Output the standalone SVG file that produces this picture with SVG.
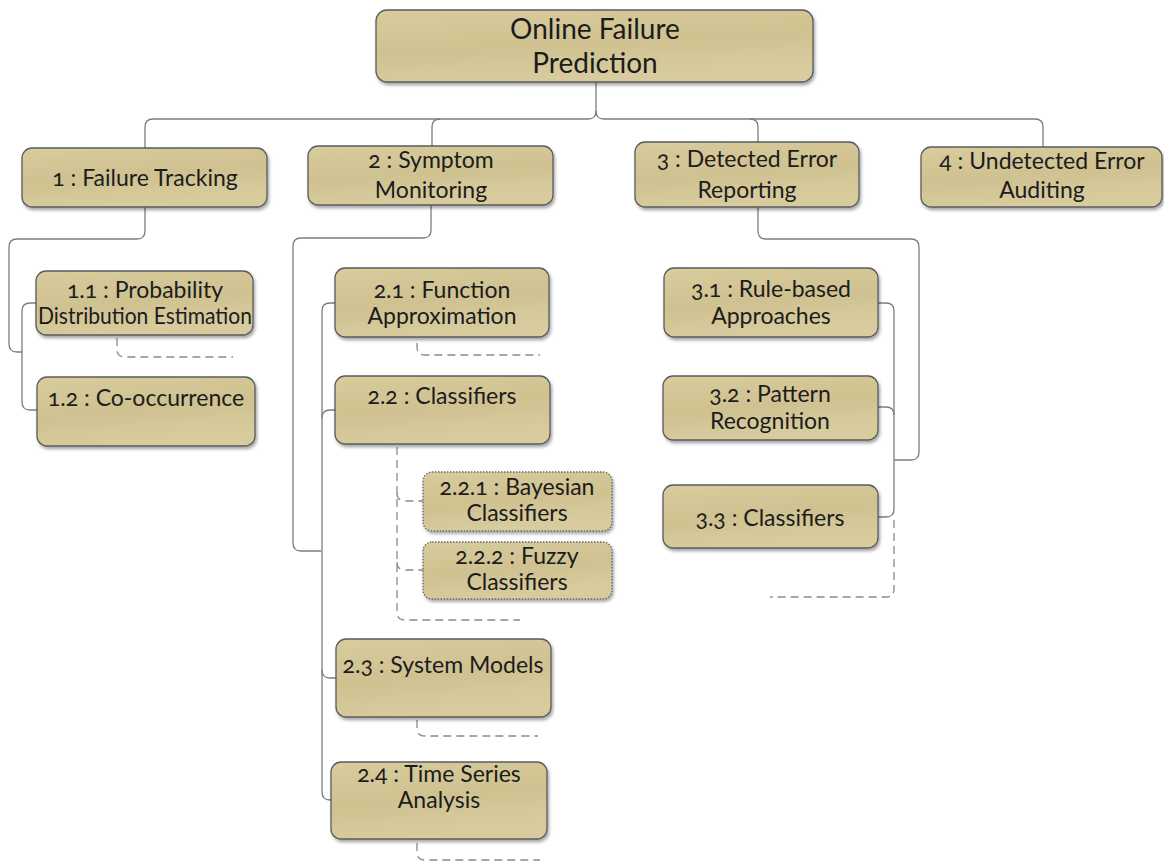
<svg xmlns="http://www.w3.org/2000/svg" width="1164" height="862" viewBox="0 0 1164 862">
  <defs>
    <linearGradient id="tan" x1="0" y1="0" x2="0.3" y2="1">
      <stop offset="0" stop-color="#d9cc9d"/>
      <stop offset="0.55" stop-color="#cfc190"/>
      <stop offset="1" stop-color="#d8cc9f"/>
    </linearGradient>
    <filter id="shadow" x="-10%" y="-10%" width="120%" height="130%">
      <feDropShadow dx="1.5" dy="2.5" stdDeviation="1.8" flood-color="#000" flood-opacity="0.35"/>
    </filter>
  </defs>
  <style>
    .box { fill: url(#tan); stroke: #5b5b5b; stroke-width: 1.3; filter: url(#shadow); }
    .sub { stroke-dasharray: 1.5 1.5; stroke: #666; }
    .lbl { font-family: Lato, "Open Sans", sans-serif; font-size: 23px; fill: #1c1c1c; text-anchor: middle; font-variant-numeric: oldstyle-nums; }
    .big { font-size: 28px; }
    .con { fill: none; stroke: #7d7d7d; stroke-width: 1.3; }
    .dash { fill: none; stroke: #8a8a8a; stroke-width: 1.3; stroke-dasharray: 8 5; }
  </style>
  <rect width="1164" height="862" fill="#ffffff"/>

  <!-- connectors -->
  <g id="connectors">
    <!-- root to level 1 -->
    <path class="con" d="M596,82 V111 Q596,119 588,119 H153 Q145,119 145,127 V148"/>
    <path class="con" d="M596,111 Q596,119 604,119 H1035 Q1043,119 1043,127 V147"/>
    <path class="con" d="M440,119 Q432,119 432,127 V146"/>
    <path class="con" d="M750,119 Q758,119 758,127 V142"/>
    <!-- 1 : Failure Tracking -->
    <path class="con" d="M145,207 V231 Q145,239 137,239 H17 Q9,239 9,247 V344 Q9,352 17,352 H22"/>
    <path class="con" d="M36,303 H30 Q22,303 22,311 V402 Q22,410 30,410 H37"/>
    <!-- 2 : Symptom Monitoring -->
    <path class="con" d="M431,205 V230 Q431,238 423,238 H301 Q293,238 293,246 V543 Q293,551 301,551 H321"/>
    <path class="con" d="M335,303 H330 Q322,303 322,311 V792 Q322,800 330,800 H331"/>
    <path class="con" d="M335,410 H330 Q322,410 322,418"/>
    <path class="con" d="M322,670 Q322,678 330,678 H336"/>
    <!-- 3 : Detected Error Reporting -->
    <path class="con" d="M758,207 V231 Q758,239 766,239 H911 Q919,239 919,247 V452 Q919,460 911,460 H894"/>
    <path class="con" d="M878,303 H886 Q894,303 894,311 V509 Q894,517 886,517 H878"/>
    <path class="con" d="M878,407 H886 Q894,407 894,415"/>
    <!-- collapsed / optional children -->
    <path class="dash" d="M117,338 V349 Q117,357 125,357 H233"/>
    <path class="dash" d="M417,343 V347 Q417,355 425,355 H540"/>
    <path class="dash" d="M397,447 V612 Q397,620 405,620 H520"/>
    <path class="dash" d="M397,493 Q397,501 405,501 H423"/>
    <path class="dash" d="M397,562 Q397,570 405,570 H423"/>
    <path class="dash" d="M417,720 V728 Q417,736 425,736 H538"/>
    <path class="dash" d="M417,843 V852 Q417,860 425,860 H540"/>
    <path class="dash" d="M894,520 V589 Q894,597 886,597 H770"/>
  </g>

  <!-- root -->
  <g id="root">
    <rect class="box" x="376" y="10" width="437" height="72" rx="11"/>
    <text class="lbl big" x="595" y="39">Online Failure</text>
    <text class="lbl big" x="595" y="73">Prediction</text>
  </g>

  <!-- level 1 -->
  <g id="n1">
    <rect class="box" x="22" y="148" width="245" height="59" rx="10"/>
    <text class="lbl" x="145" y="186">1 : Failure Tracking</text>
  </g>
  <g id="n2">
    <rect class="box" x="308" y="146" width="245" height="59" rx="10"/>
    <text class="lbl" x="431" y="168">2 : Symptom</text>
    <text class="lbl" x="431" y="198">Monitoring</text>
  </g>
  <g id="n3">
    <rect class="box" x="635" y="142" width="224" height="65" rx="10"/>
    <text class="lbl" x="747" y="167">3 : Detected Error</text>
    <text class="lbl" x="747" y="198">Reporting</text>
  </g>
  <g id="n4">
    <rect class="box" x="921" y="147" width="241" height="60" rx="10"/>
    <text class="lbl" x="1042" y="169">4 : Undetected Error</text>
    <text class="lbl" x="1042" y="198">Auditing</text>
  </g>

  <!-- 1.x -->
  <g id="n1_1">
    <rect class="box" x="36" y="271" width="217" height="64" rx="10"/>
    <text class="lbl" x="145" y="298">1.1 : Probability</text>
    <text class="lbl" x="145" y="324" textLength="214" lengthAdjust="spacingAndGlyphs">Distribution Estimation</text>
  </g>
  <g id="n1_2">
    <rect class="box" x="37" y="377" width="218" height="69" rx="10"/>
    <text class="lbl" x="146" y="406">1.2 : Co-occurrence</text>
  </g>

  <!-- 2.x -->
  <g id="n2_1">
    <rect class="box" x="335" y="268" width="214" height="69" rx="10"/>
    <text class="lbl" x="442" y="298">2.1 : Function</text>
    <text class="lbl" x="442" y="324">Approximation</text>
  </g>
  <g id="n2_2">
    <rect class="box" x="335" y="376" width="215" height="68" rx="10"/>
    <text class="lbl" x="442" y="404">2.2 : Classifiers</text>
  </g>
  <g id="n2_2_1">
    <rect class="box sub" x="423" y="472" width="189" height="59" rx="9"/>
    <text class="lbl" x="517" y="495">2.2.1 : Bayesian</text>
    <text class="lbl" x="517" y="521">Classifiers</text>
  </g>
  <g id="n2_2_2">
    <rect class="box sub" x="423" y="542" width="189" height="57" rx="9"/>
    <text class="lbl" x="517" y="564">2.2.2 : Fuzzy</text>
    <text class="lbl" x="517" y="590">Classifiers</text>
  </g>
  <g id="n2_3">
    <rect class="box" x="336" y="639" width="215" height="78" rx="10"/>
    <text class="lbl" x="443" y="673">2.3 : System Models</text>
  </g>
  <g id="n2_4">
    <rect class="box" x="331" y="762" width="216" height="77" rx="10"/>
    <text class="lbl" x="439" y="782">2.4 : Time Series</text>
    <text class="lbl" x="439" y="808">Analysis</text>
  </g>

  <!-- 3.x -->
  <g id="n3_1">
    <rect class="box" x="664" y="268" width="214" height="69" rx="10"/>
    <text class="lbl" x="771" y="297">3.1 : Rule-based</text>
    <text class="lbl" x="771" y="324">Approaches</text>
  </g>
  <g id="n3_2">
    <rect class="box" x="663" y="376" width="215" height="64" rx="10"/>
    <text class="lbl" x="770" y="402">3.2 : Pattern</text>
    <text class="lbl" x="770" y="429">Recognition</text>
  </g>
  <g id="n3_3">
    <rect class="box" x="663" y="485" width="215" height="63" rx="10"/>
    <text class="lbl" x="770" y="526">3.3 : Classifiers</text>
  </g>
</svg>
